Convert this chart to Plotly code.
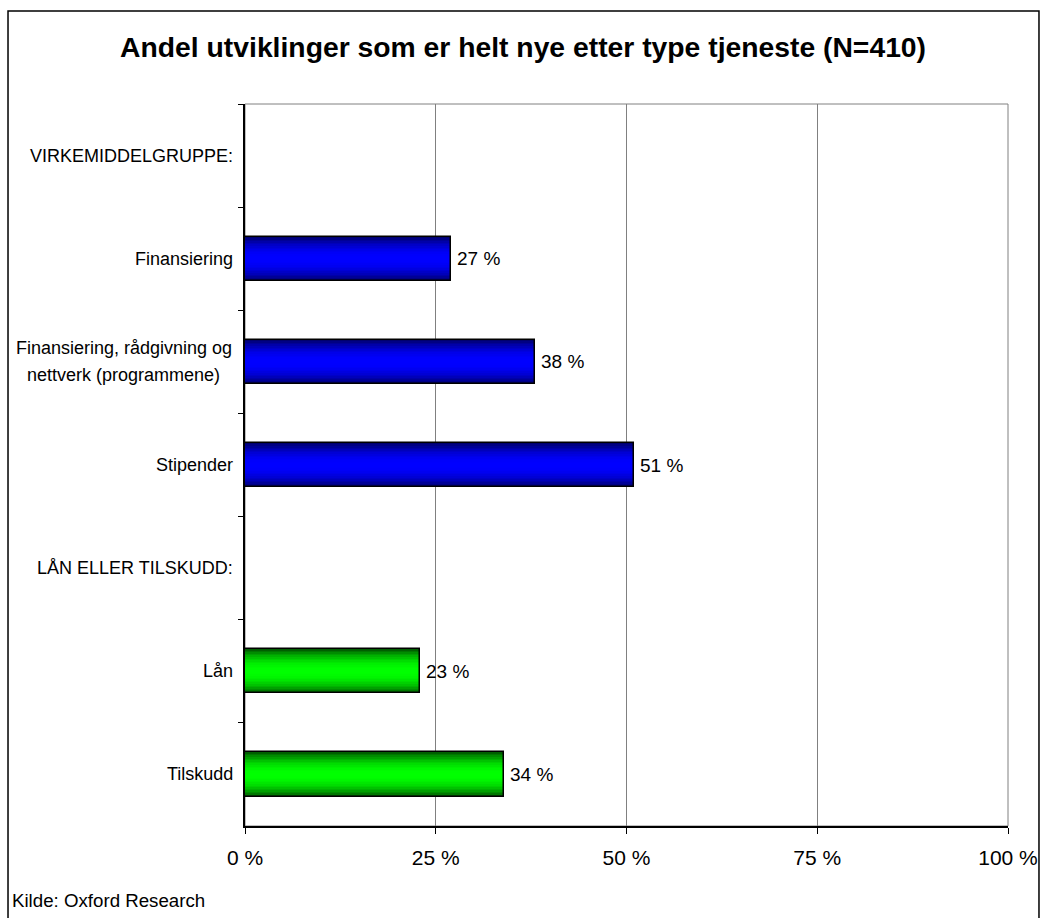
import plotly.graph_objects as go

# Categories top to bottom; group headings carry no value
categories = [
    "VIRKEMIDDELGRUPPE:",
    "Finansiering",
    "Finansiering, rådgivning og<br>nettverk (programmene)",
    "Stipender",
    "LÅN ELLER TILSKUDD:",
    "Lån",
    "Tilskudd",
]
values = [None, 27, 38, 51, None, 23, 34]
groups = [None, "blue", "blue", "blue", None, "green", "green"]

x_tickvals = [0, 25, 50, 75, 100]
x_ticktext = ["0 %", "25 %", "50 %", "75 %", "100 %"]

title_text = "Andel utviklinger som er helt nye etter type tjeneste (N=410)"
source_text = "Kilde: Oxford Research"

FONT = "Liberation Sans, Arial, sans-serif"
BAR_W = 0.43
N_LAYERS = 14
LABEL_LINE_GAP = 27      # px between lines of a wrapped category label
WRAPPED_LABEL_X = -0.1586  # paper x of the centre of wrapped labels

# dark edge -> bright centre colours for the shaded bars
shade = {
    "blue": ((0, 0, 110), (0, 0, 255)),
    "green": ((0, 95, 0), (0, 255, 0)),
}


def mix(c0, c1, t):
    return "rgb({},{},{})".format(*[round(a + (b - a) * t) for a, b in zip(c0, c1)])


fig = go.Figure()

# stacked narrower bars give the vertical colour gradient
for i in range(N_LAYERS):
    t = i / (N_LAYERS - 1)
    w = BAR_W * (1 - t * 0.93)
    ease = 1 - (1 - t) ** 2
    colors = [mix(*shade[g], ease) if g else "rgba(0,0,0,0)" for g in groups]
    fig.add_trace(go.Bar(
        y=categories, x=values, orientation="h", width=w,
        marker=dict(color=colors, line=dict(width=0)),
        hoverinfo="skip", showlegend=False,
    ))

# outline
fig.add_trace(go.Bar(
    y=categories, x=values, orientation="h", width=BAR_W,
    marker=dict(color="rgba(0,0,0,0)", line=dict(color="black", width=1.5)),
    showlegend=False,
))

# value labels just past the bar ends
for c, v in zip(categories, values):
    if v is None:
        continue
    fig.add_annotation(
        x=v, xref="x", y=c, yref="y", text=f"{v} %", showarrow=False,
        xanchor="left", xshift=4,
        font=dict(family=FONT, size=19, color="black"),
    )

# category labels; wrapped ones are centred line by line
for c in categories:
    lines = c.split("<br>")
    n = len(lines)
    for k, line in enumerate(lines):
        if n == 1:
            pos = dict(x=0, xanchor="right", xshift=-10)
        else:
            pos = dict(x=WRAPPED_LABEL_X, xanchor="center")
        fig.add_annotation(
            xref="paper", y=c, yref="y", text=line, showarrow=False,
            yshift=((n - 1) / 2 - k) * LABEL_LINE_GAP,
            font=dict(family=FONT, size=18, color="black"), **pos,
        )

fig.add_annotation(
    x=-0.3054, xref="paper", y=-0.1025, yref="paper", text=source_text,
    showarrow=False, xanchor="left", yanchor="middle", xshift=-2,
    font=dict(family=FONT, size=18.7, color="black"),
)

# plot area border
fig.add_shape(type="rect", xref="paper", yref="paper", x0=0, x1=1, y0=0, y1=1,
              line=dict(color="#808080", width=1), layer="below")
# outer chart frame
fig.add_shape(type="rect", xref="paper", yref="paper",
              x0=-0.3106, x1=1.0406, y0=-0.15, y1=1.1288,
              line=dict(color="black", width=1.5))

fig.update_layout(
    width=1042, height=918,
    margin=dict(l=245, r=34, t=104, b=92, autoexpand=False),
    paper_bgcolor="white", plot_bgcolor="white",
    barmode="overlay", bargap=0,
    title=dict(text=f"<b>{title_text}</b>", x=0.502, xanchor="center",
               y=1 - 47 / 918, yanchor="middle", yref="container",
               font=dict(family=FONT, size=28.3, color="black")),
    font=dict(family=FONT, color="black"),
)

fig.update_xaxes(
    range=[0, 100], tickvals=x_tickvals, ticktext=x_ticktext,
    showgrid=True, gridcolor="#808080", gridwidth=1,
    showline=True, linecolor="black", linewidth=1.5,
    ticks="outside", ticklen=6, tickcolor="black", tickwidth=1,
    ticklabelstandoff=6, automargin=False,
    tickfont=dict(family=FONT, size=21, color="black"),
    zeroline=False, fixedrange=True,
)
fig.update_yaxes(
    type="category", categoryorder="array", categoryarray=categories,
    autorange="reversed", tickson="boundaries",
    showticklabels=False, showgrid=False, automargin=False,
    showline=True, linecolor="black", linewidth=1.5,
    ticks="outside", ticklen=5, tickcolor="black", tickwidth=1,
    fixedrange=True,
)

fig.write_html("out.html")
